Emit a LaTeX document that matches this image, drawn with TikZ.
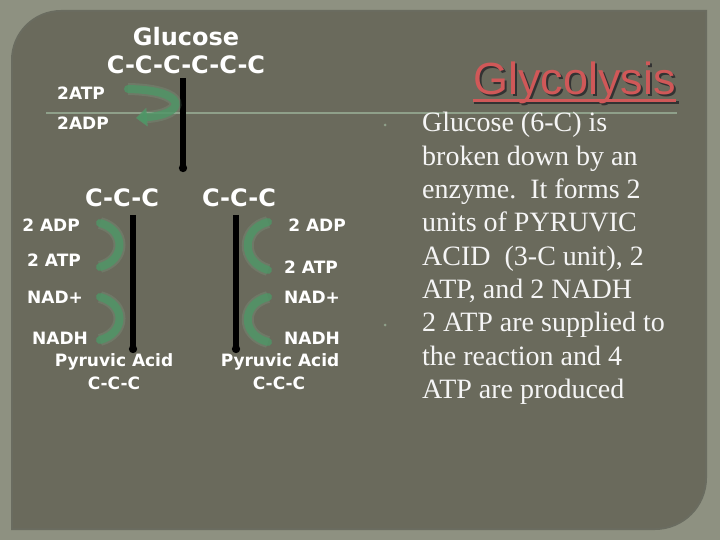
\documentclass[tikz,border=0pt]{standalone}
\usepackage{fontspec}
\setmainfont{Liberation Serif}
\newfontfamily\diagfont{DejaVu Sans}
\newfontfamily\titlefont{Liberation Sans}
\usetikzlibrary{arrows.meta}
\definecolor{frame}{HTML}{8E9181}
\definecolor{panel}{HTML}{6A6A5C}
\definecolor{glow}{HTML}{4E9666}
\definecolor{titlered}{HTML}{D05858}
\definecolor{rulegreen}{HTML}{8FA08A}

\tikzset{
  big/.style={font=\diagfont\bfseries\fontsize{24}{28}\selectfont, text=white, inner sep=0pt},
  small/.style={font=\diagfont\bfseries\fontsize{17}{20}\selectfont, text=white, inner sep=0pt},
  chain/.style={line width=6pt, black, -{Circle[length=8pt]}},
  swirl/.style={line width=8pt, glow, opacity=0.8, line cap=round,
    preaction={draw, line width=12pt, glow!70!white, opacity=0.2}},
  bodyline/.style={font=\fontsize{28}{33}\selectfont, text=white!96!black, inner sep=0pt, anchor=base west}
}

\begin{document}
\begin{tikzpicture}[x=1pt,y=-1pt]
\useasboundingbox (0,0) rectangle (720,540);
% slide background
\fill[frame] (0,0) rectangle (720,540);
\fill[black, opacity=0.25] (11,530) [rounded corners=50pt] -- (11,10) [sharp corners] -- (707,10) [rounded corners=52pt] -- (707,530) [sharp corners] -- cycle;
\fill[panel] (13,528) [rounded corners=48pt] -- (13,12) [sharp corners] -- (705,12) [rounded corners=50pt] -- (705,528) [sharp corners] -- cycle;
\draw[rulegreen, line width=1.2pt] (46,113) -- (677,113);
\fill[rulegreen] (385,125) circle (1.5) (385,325) circle (1.5);

% title
\node[font=\titlefont\fontsize{45}{50}\selectfont, text=black!80, anchor=base east, inner sep=0pt] at (678,97) {Glycolysis};
\draw[black!80, line width=3pt] (474,103) -- (679,103);
\node[font=\titlefont\fontsize{45}{50}\selectfont, text=titlered, anchor=base east, inner sep=0pt] (title) at (676,95) {Glycolysis};
\draw[titlered, line width=3pt] ([yshift=-6pt]title.base west) -- ([yshift=-6pt]title.base east);

% text on the right
\foreach \txt [count=\i from 0] in {Glucose (6-C) is, broken down by an, {enzyme.\ \ It forms 2}, units of PYRUVIC, {ACID\ \ (3-C unit), 2}, {ATP, and 2 NADH}, 2 ATP are supplied to, the reaction and 4, ATP are produced}
  \node[bodyline] (line\i) at (422,132+33.3*\i) {\txt};

% glucose splitting
\node[big] (glucose) at (186,37) {Glucose};
\node[big] (six) at (186,65) {C-C-C-C-C-C};
\node[small, anchor=west] (atpin) at (57,93) {2ATP};
\node[small, anchor=west] (adpout) at (57,123) {2ADP};
\coordinate (fork) at (183,78);
\coordinate (split) at (183,172);
\draw[chain] (fork) -- (split);
\coordinate (swirlin) at (128,89);
\coordinate (swirlout) at (136,118);
\draw[swirl, -{Triangle[length=11pt,width=18pt]}] (swirlin) .. controls (188,90) and (188,114) .. (swirlout);

\node[big] (threel) at (122,198) {C-C-C};
\node[big] (threer) at (239,198) {C-C-C};
\coordinate (ltop) at (133,215);
\coordinate (lend) at (133,353);
\coordinate (rtop) at (236,215);
\coordinate (rend) at (236,353);
\draw[chain] (ltop) -- (lend);
\draw[chain] (rtop) -- (rend);

% left branch
\node[small] (adpl) at (51,225) {2 ADP};
\node[small] (atpl) at (54,260) {2 ATP};
\node[small] (nadl) at (55,297) {NAD+};
\node[small] (nadhl) at (60,338) {NADH};
\coordinate (la1) at (100,223);
\coordinate (la2) at (100,267);
\coordinate (lb1) at (100,297);
\coordinate (lb2) at (100,340);
\draw[swirl] (la1) .. controls (126,230) and (126,260) .. (la2);
\draw[swirl] (lb1) .. controls (126,304) and (126,333) .. (lb2);
\node[small] (pyrl) at (114,362) {Pyruvic Acid};
\node[small] (cccl) at (114,383) {C-C-C};

% right branch
\node[small] (adpr) at (317,225) {2 ADP};
\node[small] (atpr) at (311,267) {2 ATP};
\node[small] (nadr) at (312,297) {NAD+};
\node[small] (nadhr) at (312,338) {NADH};
\coordinate (ra1) at (268,222);
\coordinate (ra2) at (268,270);
\coordinate (rb1) at (268,297);
\coordinate (rb2) at (268,342);
\draw[swirl] (ra1) .. controls (241,229) and (241,262) .. (ra2);
\draw[swirl] (rb1) .. controls (241,304) and (241,335) .. (rb2);
\node[small] (pyrr) at (280,362) {Pyruvic Acid};
\node[small] (cccr) at (279,383) {C-C-C};
\end{tikzpicture}
\end{document}
